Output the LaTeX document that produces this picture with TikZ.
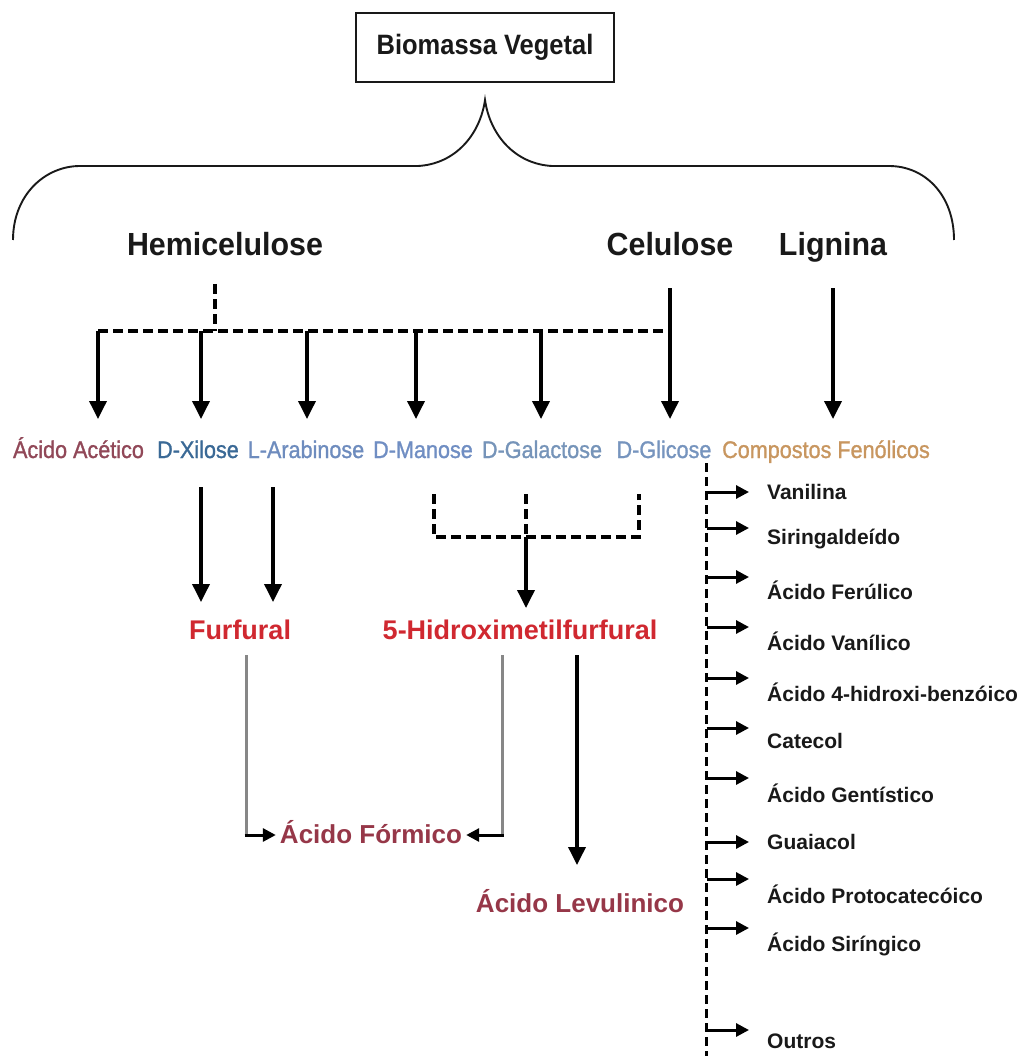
\documentclass[tikz,border=0pt]{standalone}
\usepackage{fontspec}
\setmainfont{Liberation Sans}
\newfontfamily\rowfont[FakeBold=1.2]{Liberation Sans}
\usetikzlibrary{arrows.meta}
\definecolor{acetc}{RGB}{145,72,88}
\definecolor{xilc}{RGB}{58,105,150}
\definecolor{arabc}{RGB}{110,140,190}
\definecolor{manoc}{RGB}{112,142,195}
\definecolor{galac}{RGB}{118,148,185}
\definecolor{glicc}{RGB}{118,148,190}
\definecolor{compc}{RGB}{200,150,95}
\definecolor{furred}{RGB}{208,40,48}
\definecolor{acidred}{RGB}{150,55,72}
\definecolor{ink}{RGB}{25,25,25}
\definecolor{lgray}{RGB}{135,135,135}
\newcommand{\narrowtxt}[2][0.9]{\scalebox{#1}[1]{#2}}
\begin{document}
\begin{tikzpicture}[x=1pt,y=-1pt,
  lbl/.style={anchor=base,inner sep=0pt,font=\fontsize{24}{26}\rowfont},
  cat/.style={anchor=base,inner sep=0pt,text=ink,font=\fontsize{32}{34}\selectfont\bfseries},
  prod/.style={anchor=base,inner sep=0pt,text=furred,font=\fontsize{27}{29}\selectfont\bfseries},
  acid/.style={anchor=base,inner sep=0pt,text=acidred,font=\fontsize{26}{28}\selectfont\bfseries},
  lst/.style={anchor=west,inner sep=0pt,text=ink,font=\fontsize{21}{23}\selectfont\bfseries},
  arr/.style={line width=3.6pt,-{Triangle[width=17pt,length=18pt]}},
  larr/.style={line width=3pt,-{Triangle[width=13pt,length=13pt]}},
  farr/.style={line width=3pt,-{Triangle[width=13pt,length=13pt]}},
  dsh/.style={line width=3.2pt,dash pattern=on 10pt off 5pt},
  gry/.style={line width=3pt,draw=lgray}]
\useasboundingbox[fill=white] (0,0) rectangle (1035,1056);

% top box
\node[draw=ink,line width=1.6pt,minimum width=258pt,minimum height=69pt,inner sep=0pt,
      text=ink,font=\fontsize{28}{30}\selectfont\bfseries] (bio) at (485,47.5) {\narrowtxt[0.91]{Biomassa Vegetal}};

% brace
\draw[ink,line width=1.9pt] (13,240) .. controls (13,195) and (45,166) .. (80,166) -- (418,166)
  .. controls (455,164) and (480,135) .. (485,100)
  .. controls (490,135) and (515,164) .. (552,166) -- (889,166)
  .. controls (925,166) and (954,195) .. (954,240);

% categories
\node[cat] (hemi) at (225,256) {\narrowtxt[0.95]{Hemicelulose}};
\node[cat] (celu) at (670,256) {\narrowtxt[0.95]{Celulose}};
\node[cat] (lign) at (833,256) {\narrowtxt[0.95]{Lignina}};

% sugar row
\node[lbl,text=acetc] (acet) at (78.5,458) {\narrowtxt{Ácido Acético}};
\node[lbl,text=xilc]  (xil)  at (198,458) {\narrowtxt{D-Xilose}};
\node[lbl,text=arabc] (arab) at (306,458) {\narrowtxt{L-Arabinose}};
\node[lbl,text=manoc] (mano) at (423,458) {\narrowtxt{D-Manose}};
\node[lbl,text=galac] (gala) at (542,458) {\narrowtxt{D-Galactose}};
\node[lbl,text=glicc] (glic) at (664,458) {\narrowtxt{D-Glicose}};
\node[lbl,text=compc] (comp) at (826,458) {\narrowtxt{Compostos Fenólicos}};

% connectors from categories
\coordinate (hd) at (215,284);
\coordinate (hj) at (215,331);
\coordinate (dl) at (98,331);
\coordinate (cj) at (670,331);
\coordinate (cl) at (670,288);
\draw[dsh] (hd) -- (hj);
\draw[dsh] (dl) -- (cj);
\draw[line width=3.6pt] (cl) -- (cj);
\coordinate (ta) at (98,419);
\coordinate (tx) at (201,419);
\coordinate (tr) at (307,419);
\coordinate (tm) at (416,419);
\coordinate (tg) at (541,419);
\coordinate (tc) at (670,419);
\draw[arr] (dl) -- (ta);
\draw[arr] (dl -| tx) -- (tx);
\draw[arr] (dl -| tr) -- (tr);
\draw[arr] (dl -| tm) -- (tm);
\draw[arr] (dl -| tg) -- (tg);
\draw[arr] (cj) -- (tc);
\coordinate (ll) at (833,288);
\coordinate (lt) at (833,419);
\draw[arr] (ll) -- (lt);

% products
\node[prod] (furf) at (240,639) {Furfural};
\node[prod] (hmf)  at (520,639) {5-Hidroximetilfurfural};
\coordinate (xs) at (201,487);
\coordinate (xe) at (201,602);
\coordinate (rs) at (273,487);
\coordinate (re) at (273,602);
\draw[arr] (xs) -- (xe);
\draw[arr] (rs) -- (re);

\coordinate (b1) at (434,494);
\coordinate (b2) at (526,494);
\coordinate (b3) at (639,494);
\coordinate (bj) at (526,537);
\coordinate (be) at (526,608);
\draw[dsh] (b1) -- (b1 |- bj) -- (b3 |- bj) -- (b3);
\draw[dsh] (b2) -- (bj);
\draw[arr] (bj) -- (be);

% acids
\node[acid] (form) at (371,843) {Ácido Fórmico};
\node[acid] (levu) at (580,912) {Ácido Levulinico};
\coordinate (fl1) at (246,655);
\coordinate (fl2) at (246,835);
\coordinate (hl1) at (502,655);
\coordinate (hl2) at (502,835);
\draw[gry] (fl1) -- (fl2);
\draw[gry] (hl1) -- (hl2);
\draw[farr] ([xshift=-1.5pt]fl2) -- ([xshift=-4pt]fl2 -| form.west);
\draw[farr] ([xshift=1.5pt]hl2) -- ([xshift=4pt]hl2 -| form.east);
\coordinate (lv1) at (577,655);
\coordinate (lv2) at (577,865);
\draw[arr] (lv1) -- (lv2);

% phenolic list
\coordinate (pt) at (706.5,463);
\coordinate (pb) at (706.5,1060);
\draw[line width=3.2pt,dash pattern=on 9pt off 5pt] (pt) -- (pb);
\foreach \nm/\ay/\ty/\txt in {
  van/492/492/{Vanilina},
  sir/528/539/{Siringaldeído},
  fer/577/590/{Ácido Ferúlico},
  vnc/627/641/{Ácido Vanílico},
  hbz/678/692/{Ácido 4-hidroxi-benzóico},
  cat/728/741/{Catecol},
  gen/778/793/{Ácido Gentístico},
  gua/842/842/{Guaiacol},
  pro/879/894/{Ácido Protocatecóico},
  sng/928/944/{Ácido Siríngico},
  out/1030/1041/{Outros}}
{
  \node[lst] (\nm) at (767,\ty) {\txt};
  \coordinate (\nm a) at (706.5,\ay);
  \draw[larr] (\nm a) -- ([xshift=-18pt]\nm a -| \nm.west);
}
\end{tikzpicture}
\end{document}
